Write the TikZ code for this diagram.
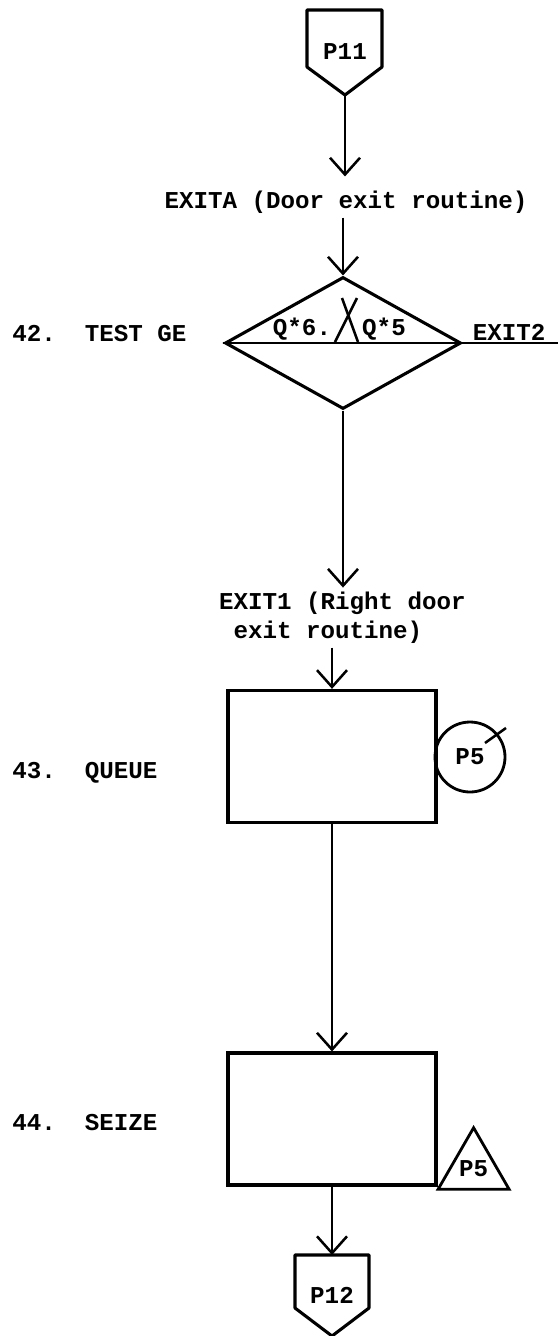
\documentclass[tikz,border=0pt]{standalone}
\usepackage{fontspec}
\newfontfamily\typewr{Liberation Mono}
\usetikzlibrary{arrows.meta, positioning, shapes.geometric}

\begin{document}
\begin{tikzpicture}[
  >={Straight Barb[length=0.42cm, width=0.75cm, line width=1.8pt]},
  font=\typewr\bfseries\fontsize{17.2}{20.6}\selectfont,
  box/.style={draw, line width=2.2pt, minimum width=5.2cm, minimum height=3.3cm},
  test/.style={diamond, draw, line width=2.2pt, minimum width=5.9cm,
    minimum height=3.3cm, inner sep=0pt},
  conn/.style={->, line width=1.8pt},
  plain/.style={line width=1.8pt},
  offpage/.style={line width=2.2pt, line join=round},
  txt/.style={inner sep=0.1cm, align=left},
  onln/.style={anchor=south, inner sep=1.5pt},
  blockno/.style={anchor=west, inner sep=0pt},
  pcirc/.style={circle, draw, line width=2pt, minimum size=1.75cm, inner sep=0pt},
  ptri/.style={regular polygon, regular polygon sides=3, draw, line width=2pt,
    minimum size=1.82cm, inner sep=0pt},
]
  \useasboundingbox (0,0) rectangle (13.95,-33.4);

  % entry connector
  \draw[offpage] (7.675,-0.25) -- (9.55,-0.25) -- (9.55,-1.675) -- (8.625,-2.375)
    -- (7.675,-1.675) -- cycle;
  \node (p11) at (8.625,-1.3) {P11};
  \coordinate (p11tip) at (8.625,-2.375);

  \node[txt] (exita) at (8.65,-5.05) {EXITA (Door exit routine)};

  % block 42
  \node[test] (test) at (8.575,-8.575) {};
  \coordinate (exit2end) at (13.95,-8.575);
  \node[blockno] (lbl42) at (0.3,-8.35) {42.~~TEST GE};
  \node[onln] (q6) at (7.55,-8.575) {Q*6.};
  \node[onln] (q5) at (9.6,-8.575) {Q*5};
  \node[onln] (exit2) at (12.73,-8.575) {EXIT2};
  \draw[plain] (8.55,-7.45) -- (8.95,-8.55);
  \draw[plain] (8.925,-7.45) -- (8.375,-8.55);

  \node[txt] (exit1) at (8.56,-15.44) {EXIT1 (Right door\\\phantom{x}exit routine)};

  % block 43
  \node[box] (queue) at (8.3,-18.91) {};
  \node[blockno] (lbl43) at (0.3,-19.325) {43.~~QUEUE};
  \node[pcirc] (qp5) at (11.75,-18.925) {P5};
  \draw[plain] (qp5.center) ++(0.375,0.35) -- ++(0.525,0.375);

  % block 44
  \node[box] (seize) at (8.3,-27.975) {};
  \node[blockno] (lbl44) at (0.3,-28.075) {44.~~SEIZE};
  \node[ptri] (sp5) at (11.84,-29.22) {P5};

  % exit connector
  \draw[offpage] (7.375,-31.375) -- (9.225,-31.375) -- (9.225,-32.7) -- (8.3,-33.4)
    -- (7.375,-32.7) -- cycle;
  \node (p12) at (8.3,-32.375) {P12};
  \coordinate (p12top) at (8.3,-31.375);

  % flow
  \draw[conn, shorten >=0.25cm] (p11tip) -- (p11tip |- exita.north);
  \draw[conn] (exita.south -| test.north) -- (test.north);
  \draw[plain] (test.west) -- (exit2end);
  \draw[conn] (test.south) -- (test.south |- exit1.north);
  \draw[conn] (exit1.south -| queue.north) -- (queue.north);
  \draw[conn] (queue.south) -- (seize.north);
  \draw[conn] (seize.south) -- (p12top);
\end{tikzpicture}
\end{document}
